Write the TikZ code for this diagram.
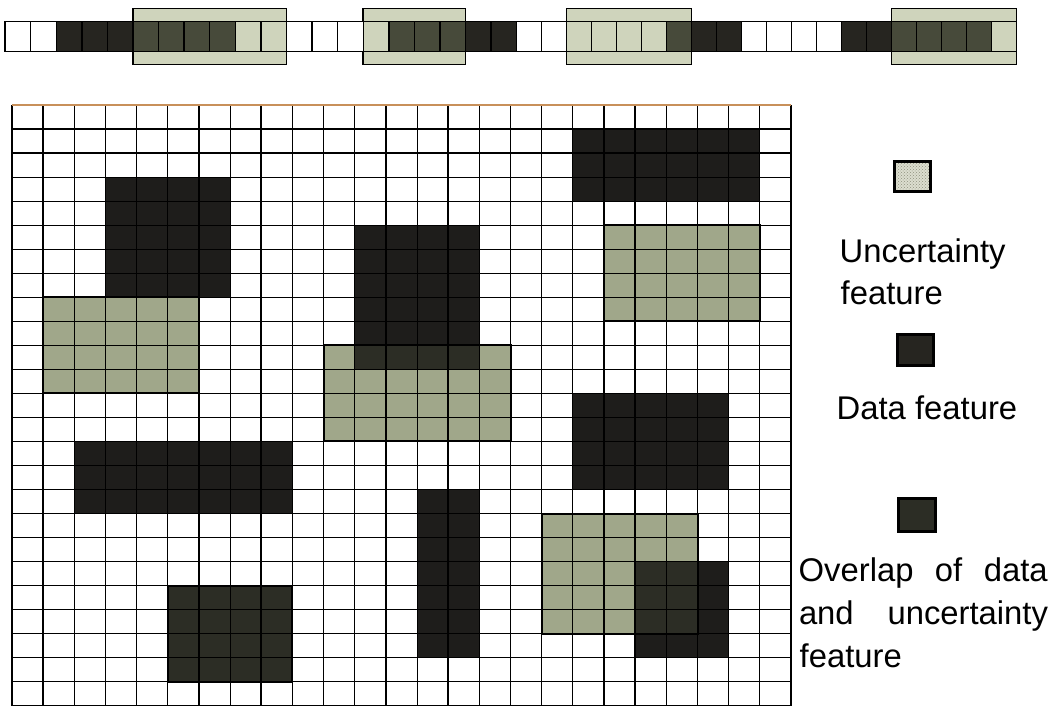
\documentclass[tikz,border=0pt]{standalone}
\usepackage{fontspec}
\setmainfont{Liberation Sans}
\usetikzlibrary{patterns}
\definecolor{datac}{HTML}{1E1D1B}
\definecolor{uncc}{HTML}{A0A78A}
\definecolor{ovc}{HTML}{2C2D25}
\definecolor{sdark}{HTML}{262520}
\definecolor{sov}{HTML}{474A3A}
\definecolor{slight}{HTML}{CFD4BC}
\definecolor{topc}{HTML}{C8905A}
\definecolor{legl}{HTML}{DCDECF}
\definecolor{legdot}{HTML}{8E907E}
\tikzset{
  scell/.style={draw=black, line width=1.4pt},
  srect/.style={draw=black, line width=1.5pt, fill=slight},
  gridthin/.style={draw=black, line width=1.15pt},
  gridthick/.style={draw=black, line width=2.4pt},
  featborder/.style={draw=black, line width=2pt},
  legsq/.style={draw=black, line width=3pt, inner sep=0pt},
  legtext/.style={font=\fontsize{32.8}{38}\selectfont, inner sep=0pt, anchor=base west},
}
\begin{document}
\begin{tikzpicture}[x=1pt, y=-1pt]
\useasboundingbox (0,0) rectangle (1054,711);
\fill[white] (0,0) rectangle (1054,711);

% ---------- top strip ----------
\foreach \a/\b in {5/11, 14/18, 22/27, 35/40}{
  \pgfmathsetmacro\xa{\a<=20 ? 5.1+25.58*\a : 516.7+25*(\a-20)}
  \pgfmathsetmacro\xb{\b<=20 ? 5.1+25.58*\b : 516.7+25*(\b-20)}
  \draw[srect] (\xa,8.3) rectangle (\xb,64.3);
}
\foreach \k/\c in {0/white,1/white,2/sdark,3/sdark,4/sdark,5/sov,6/sov,7/sov,8/sov,9/slight,
  10/slight,11/white,12/white,13/white,14/slight,15/sov,16/sov,17/sov,18/sdark,19/sdark,
  20/white,21/white,22/slight,23/slight,24/slight,25/slight,26/sov,27/sdark,28/sdark,29/white,
  30/white,31/white,32/white,33/sdark,34/sdark,35/sov,36/sov,37/sov,38/sov,39/slight}{
  \pgfmathsetmacro\xa{\k<=20 ? 5.1+25.58*\k : 516.7+25*(\k-20)}
  \pgfmathsetmacro\xb{(\k+1)<=20 ? 5.1+25.58*(\k+1) : 516.7+25*(\k+1-20)}
  \draw[scell, fill=\c] (\xa,21.7) rectangle (\xb,51.7);
}

% ---------- main grid ----------
\begin{scope}[shift={(12,105)}, x=31.16pt, y=-24.03pt]
  % data features
  \foreach \p/\q in {{(3,3)}/{(7,8)}, {(11,5)}/{(15,11)}, {(18,1)}/{(24,4)},
                     {(2,14)}/{(9,17)}, {(18,12)}/{(23,16)}, {(13,16)}/{(15,23)},
                     {(20,19)}/{(23,23)}}
    \fill[datac] \p rectangle \q;
  % uncertainty features
  \foreach \p/\q in {{(19,5)}/{(24,9)}, {(1,8)}/{(6,12)}, {(10,10)}/{(16,14)}, {(17,17)}/{(22,22)}}
    \fill[uncc] \p rectangle \q;
  % overlaps
  \fill[ovc] (11,10) rectangle (15,11);
  \fill[ovc] (20,19) rectangle (22,22);
  \fill[ovc] (5,20) rectangle (9,24);
  % grid lines
  \foreach \i in {0,...,25} \draw[gridthin] (\i,0) -- (\i,25);
  \foreach \j in {1,...,25} \draw[gridthin] (0,\j) -- (25,\j);
  \foreach \i in {1,8,14,20} \draw[gridthick] (\i,0) -- (\i,25);
  \draw[topc, line width=1.2pt] (0,0) -- (25,0);
  % borders of uncertainty features and overlap block
  \foreach \p/\q in {{(19,5)}/{(24,9)}, {(1,8)}/{(6,12)}, {(10,10)}/{(16,14)}, {(17,17)}/{(22,22)}, {(5,20)}/{(9,24)}}
    \draw[featborder] \p rectangle \q;
\end{scope}

% ---------- legend ----------
\node[legsq, minimum width=36pt, minimum height=30pt,
      preaction={fill=legl}, preaction={pattern=crosshatch dots, pattern color=legdot}]
      (uncsq) at (912.5,176.5) {};
\node[legtext] (unc1) at (839.5,262.7) {Uncertainty};
\node[legtext] (unc2) at (840.5,304) {feature};
\node[legsq, fill=sdark, minimum width=36pt, minimum height=31pt] (datasq) at (915.5,350) {};
\node[legtext] (datat) at (836.5,419.3) {Data feature};
\node[legsq, fill=ovc, minimum width=37pt, minimum height=33pt] (ovsq) at (917,515) {};
\node[legtext] (ov1) at (798.5,581.7) {\makebox[249pt][s]{Overlap of data}};
\node[legtext] (ov2) at (798.8,624.5) {\makebox[249pt][s]{and uncertainty}};
\node[legtext] (ov3) at (799.5,667.3) {feature};
\end{tikzpicture}
\end{document}
